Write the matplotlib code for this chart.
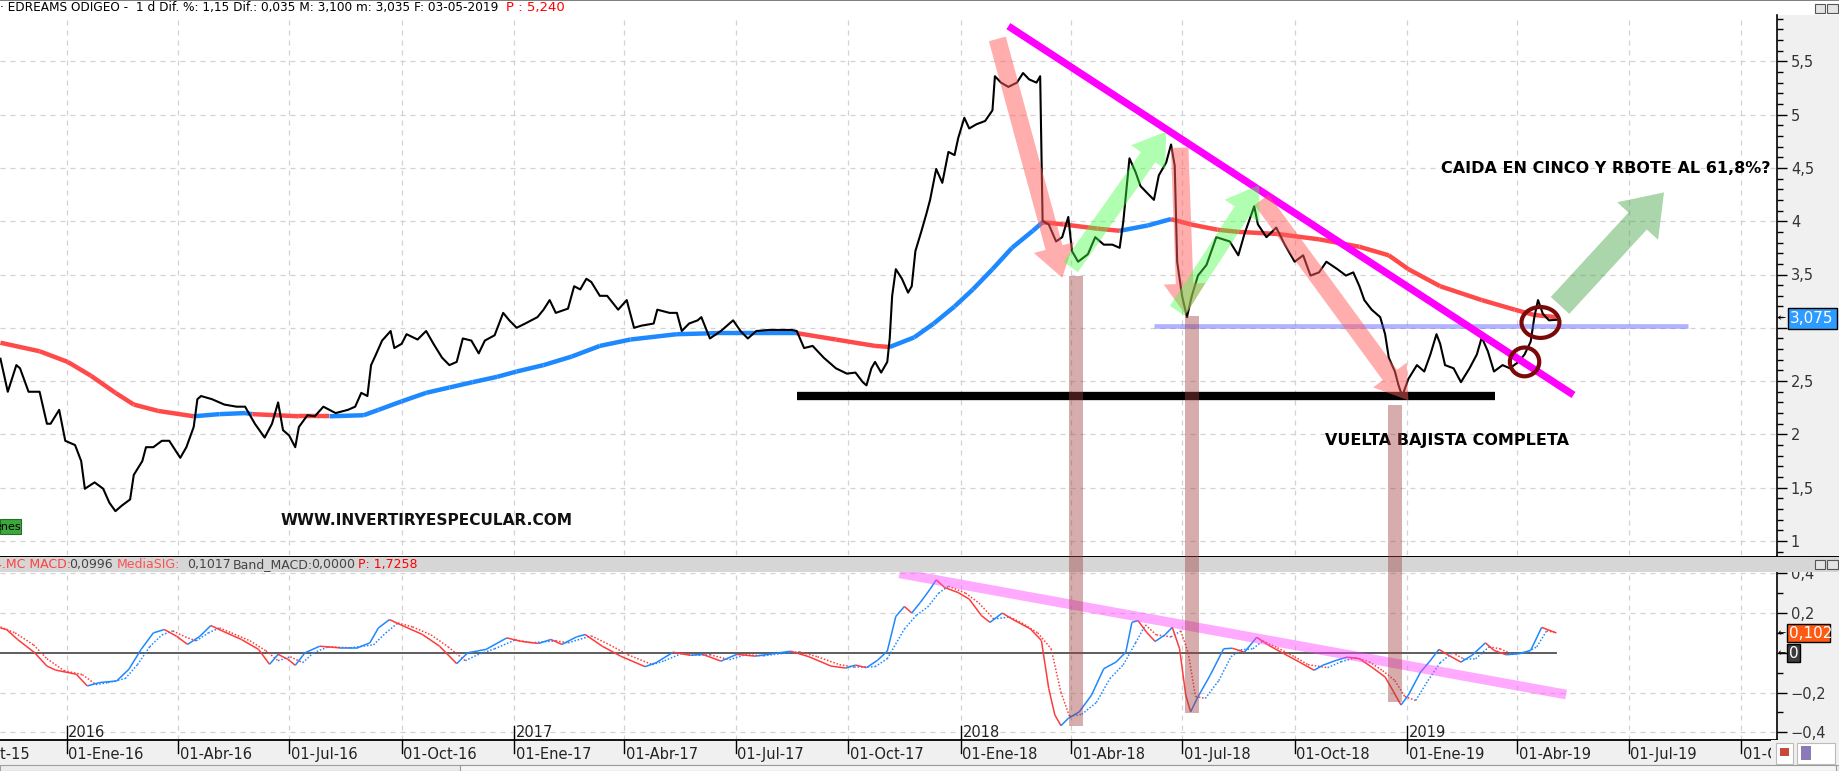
import numpy as np
import matplotlib
matplotlib.use("Agg")
import matplotlib.pyplot as plt
import matplotlib.dates as mdates
from matplotlib.collections import LineCollection
from matplotlib.patches import Rectangle, FancyArrowPatch, Ellipse
from matplotlib.ticker import MultipleLocator, FixedLocator, FuncFormatter

# ---------------- data ----------------
price_dates = [
    "2015-11-08", "2015-11-14", "2015-11-21", "2015-11-24", "2015-12-01", "2015-12-10", "2015-12-16",
    "2015-12-19", "2015-12-26", "2015-12-31", "2016-01-08", "2016-01-13", "2016-01-16", "2016-01-24",
    "2016-01-31", "2016-02-05", "2016-02-10", "2016-02-15", "2016-02-22", "2016-02-25", "2016-03-03",
    "2016-03-06", "2016-03-12", "2016-03-19", "2016-03-25", "2016-04-03", "2016-04-08", "2016-04-14",
    "2016-04-17", "2016-04-20", "2016-04-29", "2016-05-09", "2016-05-19", "2016-05-26", "2016-06-03",
    "2016-06-11", "2016-06-17", "2016-06-22", "2016-06-26", "2016-07-01", "2016-07-06", "2016-07-09",
    "2016-07-16", "2016-07-22", "2016-07-29", "2016-08-08", "2016-08-18", "2016-08-24", "2016-08-29",
    "2016-09-03", "2016-09-06", "2016-09-10", "2016-09-15", "2016-09-22", "2016-09-25", "2016-10-01",
    "2016-10-05", "2016-10-14", "2016-10-21", "2016-10-27", "2016-11-03", "2016-11-09", "2016-11-15",
    "2016-11-20", "2016-11-27", "2016-12-03", "2016-12-08", "2016-12-16", "2016-12-23", "2016-12-28",
    "2017-01-03", "2017-01-10", "2017-01-20", "2017-01-25", "2017-01-30", "2017-02-04", "2017-02-14",
    "2017-02-19", "2017-02-24", "2017-03-01", "2017-03-05", "2017-03-12", "2017-03-18", "2017-03-27",
    "2017-04-03", "2017-04-09", "2017-04-15", "2017-04-25", "2017-04-28", "2017-05-08", "2017-05-14",
    "2017-05-18", "2017-05-24", "2017-05-31", "2017-06-03", "2017-06-10", "2017-06-19", "2017-06-29",
    "2017-07-05", "2017-07-11", "2017-07-18", "2017-07-28", "2017-08-07", "2017-08-16", "2017-08-20",
    "2017-08-26", "2017-09-02", "2017-09-11", "2017-09-21", "2017-09-30", "2017-10-07", "2017-10-13",
    "2017-10-16", "2017-10-20", "2017-10-23", "2017-10-28", "2017-11-02", "2017-11-04", "2017-11-06",
    "2017-11-09", "2017-11-14", "2017-11-19", "2017-11-22", "2017-11-25", "2017-11-30", "2017-12-04",
    "2017-12-07", "2017-12-12", "2017-12-17", "2017-12-22", "2017-12-27", "2017-12-30", "2018-01-04",
    "2018-01-08", "2018-01-14", "2018-01-21", "2018-01-27", "2018-01-29", "2018-02-03", "2018-02-09",
    "2018-02-16", "2018-02-21", "2018-02-26", "2018-03-04", "2018-03-07", "2018-03-09", "2018-03-14",
    "2018-03-20", "2018-03-25", "2018-03-30", "2018-04-02", "2018-04-07", "2018-04-15", "2018-04-21",
    "2018-04-28", "2018-05-05", "2018-05-11", "2018-05-14", "2018-05-19", "2018-05-24", "2018-05-28",
    "2018-06-02", "2018-06-08", "2018-06-12", "2018-06-18", "2018-06-22", "2018-06-25", "2018-06-27",
    "2018-07-01", "2018-07-05", "2018-07-09", "2018-07-14", "2018-07-21", "2018-07-29", "2018-08-09",
    "2018-08-16", "2018-08-21", "2018-08-29", "2018-09-01", "2018-09-08", "2018-09-16", "2018-09-23",
    "2018-10-01", "2018-10-08", "2018-10-14", "2018-10-21", "2018-10-27", "2018-11-05", "2018-11-12",
    "2018-11-18", "2018-11-23", "2018-11-27", "2018-12-03", "2018-12-10", "2018-12-14", "2018-12-17",
    "2018-12-22", "2018-12-25", "2018-12-28", "2019-01-02", "2019-01-09", "2019-01-15", "2019-01-20",
    "2019-01-25", "2019-01-28", "2019-02-01", "2019-02-08", "2019-02-14", "2019-02-21", "2019-02-27",
    "2019-03-03", "2019-03-08", "2019-03-13", "2019-03-20", "2019-03-26", "2019-04-02", "2019-04-07",
    "2019-04-12", "2019-04-15", "2019-04-18", "2019-04-22", "2019-04-27", "2019-05-03",
]
price = [
    2.71, 2.40, 2.65, 2.62, 2.40, 2.40, 2.10, 2.10, 2.23, 1.94, 1.90, 1.75, 1.49, 1.55,
    1.49, 1.36, 1.28, 1.33, 1.39, 1.62, 1.75, 1.88, 1.88, 1.94, 1.94, 1.78, 1.88, 2.07,
    2.33, 2.36, 2.33, 2.28, 2.26, 2.26, 2.10, 1.97, 2.10, 2.30, 2.04, 1.99, 1.88, 2.07,
    2.18, 2.17, 2.26, 2.20, 2.23, 2.26, 2.39, 2.36, 2.65, 2.75, 2.88, 2.97, 2.81, 2.85,
    2.94, 2.89, 2.97, 2.85, 2.72, 2.65, 2.68, 2.90, 2.88, 2.76, 2.88, 2.93, 3.14, 3.07,
    3.00, 3.04, 3.10, 3.17, 3.26, 3.14, 3.18, 3.39, 3.36, 3.46, 3.43, 3.30, 3.30, 3.17,
    3.26, 3.00, 3.02, 3.04, 3.17, 3.14, 3.14, 2.97, 3.04, 3.07, 3.10, 2.90, 2.97, 3.07,
    2.97, 2.90, 2.97, 2.98, 2.98, 2.98, 2.97, 2.81, 2.83, 2.72, 2.62, 2.57, 2.58, 2.49,
    2.46, 2.62, 2.68, 2.58, 2.68, 2.90, 3.30, 3.55, 3.46, 3.33, 3.39, 3.72, 3.91, 4.07,
    4.20, 4.49, 4.36, 4.65, 4.62, 4.78, 4.97, 4.87, 4.91, 4.94, 5.04, 5.36, 5.30, 5.26,
    5.30, 5.39, 5.33, 5.30, 5.36, 4.00, 3.97, 3.81, 3.85, 4.04, 3.72, 3.62, 3.69, 3.85,
    3.78, 3.78, 3.75, 4.00, 4.59, 4.46, 4.33, 4.27, 4.20, 4.43, 4.55, 4.72, 4.52, 3.62,
    3.30, 3.10, 3.30, 3.49, 3.59, 3.85, 3.81, 3.68, 3.88, 4.14, 3.97, 3.85, 3.94, 3.78,
    3.62, 3.68, 3.49, 3.52, 3.62, 3.55, 3.49, 3.52, 3.39, 3.26, 3.17, 3.10, 2.94, 2.72,
    2.59, 2.46, 2.36, 2.52, 2.65, 2.59, 2.75, 2.94, 2.85, 2.65, 2.62, 2.49, 2.62, 2.75,
    2.91, 2.78, 2.59, 2.65, 2.62, 2.68, 2.75, 2.87, 3.10, 3.26, 3.13, 3.07, 3.075,
]

ma_dates = [
    "2015-11-08", "2015-12-10", "2016-01-02", "2016-01-21", "2016-02-10", "2016-02-25", "2016-03-16",
    "2016-04-14", "2016-05-05", "2016-05-26", "2016-06-01", "2016-07-09", "2016-08-03", "2016-08-31",
    "2016-09-12", "2016-10-01", "2016-10-21", "2016-11-09", "2016-11-28", "2016-12-18", "2017-01-03",
    "2017-01-25", "2017-02-17", "2017-03-12", "2017-04-06", "2017-05-14", "2017-06-16", "2017-07-24",
    "2017-08-20", "2017-09-21", "2017-10-23", "2017-11-04", "2017-11-24", "2017-12-10", "2017-12-27",
    "2018-01-11", "2018-01-27", "2018-02-12", "2018-03-01", "2018-03-09", "2018-03-26", "2018-04-23",
    "2018-05-11", "2018-06-03", "2018-06-22", "2018-07-08", "2018-07-30", "2018-08-16", "2018-09-17",
    "2018-10-21", "2018-11-23", "2018-12-17", "2019-01-02", "2019-01-28", "2019-03-03", "2019-03-30",
    "2019-04-15", "2019-05-03",
]
ma = [
    2.86, 2.78, 2.68, 2.55, 2.39, 2.28, 2.22, 2.17, 2.19, 2.20, 2.19, 2.17, 2.17, 2.18,
    2.23, 2.31, 2.39, 2.44, 2.49, 2.54, 2.59, 2.65, 2.73, 2.83, 2.89, 2.94, 2.95, 2.95,
    2.95, 2.89, 2.83, 2.82, 2.91, 3.04, 3.20, 3.36, 3.55, 3.75, 3.91, 3.99, 3.97, 3.93,
    3.91, 3.96, 4.02, 3.97, 3.92, 3.90, 3.88, 3.83, 3.76, 3.68, 3.55, 3.39, 3.26, 3.17,
    3.12, 3.10,
]

macd_dates = [
    "2015-11-08", "2015-11-13", "2015-11-22", "2015-12-06", "2015-12-16", "2015-12-23", "2016-01-09",
    "2016-01-18", "2016-01-28", "2016-02-11", "2016-02-21", "2016-03-02", "2016-03-12", "2016-03-21",
    "2016-03-31", "2016-04-09", "2016-04-19", "2016-04-28", "2016-05-08", "2016-05-23", "2016-06-06",
    "2016-06-15", "2016-06-22", "2016-06-30", "2016-07-06", "2016-07-14", "2016-07-26", "2016-08-11",
    "2016-08-26", "2016-09-05", "2016-09-12", "2016-09-21", "2016-10-03", "2016-10-18", "2016-11-01",
    "2016-11-15", "2016-11-24", "2016-12-09", "2016-12-26", "2017-01-06", "2017-01-21", "2017-01-31",
    "2017-02-09", "2017-02-21", "2017-02-28", "2017-03-14", "2017-03-29", "2017-04-18", "2017-04-27",
    "2017-05-11", "2017-05-25", "2017-06-04", "2017-06-19", "2017-07-02", "2017-07-17", "2017-08-06",
    "2017-08-15", "2017-08-30", "2017-09-17", "2017-09-29", "2017-10-07", "2017-10-16", "2017-10-25",
    "2017-11-02", "2017-11-09", "2017-11-16", "2017-11-22", "2017-11-29", "2017-12-07", "2017-12-12",
    "2017-12-19", "2017-12-30", "2018-01-08", "2018-01-18", "2018-01-25", "2018-02-04", "2018-02-12",
    "2018-02-27", "2018-03-08", "2018-03-14", "2018-03-19", "2018-03-24", "2018-03-30", "2018-04-08",
    "2018-04-18", "2018-04-28", "2018-05-08", "2018-05-16", "2018-05-21", "2018-05-26", "2018-06-02",
    "2018-06-09", "2018-06-17", "2018-06-23", "2018-06-29", "2018-07-04", "2018-07-08", "2018-07-14",
    "2018-07-24", "2018-08-04", "2018-08-11", "2018-08-21", "2018-08-31", "2018-09-10", "2018-09-20",
    "2018-10-05", "2018-10-17", "2018-10-24", "2018-11-04", "2018-11-13", "2018-11-23", "2018-12-03",
    "2018-12-14", "2018-12-21", "2018-12-27", "2019-01-02", "2019-01-12", "2019-01-19", "2019-01-27",
    "2019-02-04", "2019-02-14", "2019-02-23", "2019-03-06", "2019-03-13", "2019-03-23", "2019-04-02",
    "2019-04-12", "2019-04-21", "2019-05-03",
]
macd = [
    0.125, 0.117, 0.067, 0.000, -0.067, -0.087, -0.108, -0.167, -0.150, -0.142, -0.083, 0.017, 0.100,
    0.117, 0.083, 0.042, 0.083, 0.137, 0.108, 0.067, 0.017, -0.058, -0.008, -0.033, -0.063, 0.000,
    0.033, 0.025, 0.025, 0.050, 0.125, 0.167, 0.133, 0.092, 0.033, -0.055, 0.000, 0.017, 0.075,
    0.058, 0.047, 0.067, 0.042, 0.080, 0.092, 0.033, -0.017, -0.070, -0.050, 0.003, -0.013, -0.008,
    -0.042, -0.008, -0.017, 0.000, 0.008, -0.020, -0.067, -0.077, -0.062, -0.075, -0.038, 0.008,
    0.183, 0.233, 0.200, 0.253, 0.320, 0.367, 0.328, 0.303, 0.270, 0.187, 0.153, 0.200, 0.170,
    0.120, 0.062, -0.180, -0.313, -0.367, -0.330, -0.297, -0.213, -0.080, -0.047, 0.003, 0.153,
    0.162, 0.103, 0.057, 0.090, 0.128, 0.020, -0.213, -0.297, -0.222, -0.113, 0.020, 0.023, 0.003,
    0.078, 0.037, 0.003, -0.047, -0.088, -0.063, -0.038, -0.022, -0.030, -0.072, -0.122, -0.197,
    -0.263, -0.213, -0.097, -0.047, 0.017, -0.013, -0.047, -0.013, 0.050, 0.012, -0.010, -0.005,
    0.012, 0.128, 0.0996,
]

sig_dates = [
    "2015-11-08", "2015-11-20", "2015-12-05", "2015-12-16", "2015-12-30", "2016-01-14", "2016-01-25",
    "2016-02-04", "2016-02-18", "2016-02-28", "2016-03-09", "2016-03-19", "2016-03-28", "2016-04-07",
    "2016-04-16", "2016-04-26", "2016-05-05", "2016-05-15", "2016-05-30", "2016-06-12", "2016-06-22",
    "2016-07-02", "2016-07-12", "2016-07-21", "2016-08-02", "2016-08-20", "2016-09-08", "2016-09-18",
    "2016-09-28", "2016-10-10", "2016-10-25", "2016-11-08", "2016-11-22", "2016-12-02", "2016-12-16",
    "2017-01-02", "2017-01-15", "2017-02-04", "2017-02-14", "2017-03-05", "2017-03-20", "2017-04-04",
    "2017-04-24", "2017-05-04", "2017-05-18", "2017-06-01", "2017-06-10", "2017-06-26", "2017-07-09",
    "2017-07-24", "2017-08-13", "2017-08-22", "2017-09-06", "2017-09-24", "2017-10-06", "2017-10-23",
    "2017-11-02", "2017-11-16", "2017-11-26", "2017-12-05", "2017-12-14", "2017-12-22", "2018-01-05",
    "2018-01-16", "2018-01-28", "2018-02-10", "2018-02-20", "2018-03-05", "2018-03-16", "2018-03-24",
    "2018-03-31", "2018-04-10", "2018-04-22", "2018-05-03", "2018-05-14", "2018-05-24", "2018-06-01",
    "2018-06-10", "2018-06-22", "2018-06-30", "2018-07-06", "2018-07-12", "2018-07-20", "2018-07-31",
    "2018-08-10", "2018-08-18", "2018-08-28", "2018-09-05", "2018-09-17", "2018-10-01", "2018-10-12",
    "2018-10-28", "2018-11-08", "2018-11-20", "2018-12-01", "2018-12-12", "2018-12-22", "2018-12-30",
    "2019-01-08", "2019-01-18", "2019-01-28", "2019-02-07", "2019-02-16", "2019-02-26", "2019-03-09",
    "2019-03-18", "2019-03-28", "2019-04-08", "2019-04-17", "2019-04-25", "2019-05-03",
]
signal = [
    0.13, 0.10, 0.04, -0.03, -0.09, -0.11, -0.16, -0.15, -0.13, -0.06, 0.03, 0.09, 0.11, 0.08,
    0.06, 0.10, 0.125, 0.10, 0.06, 0.01, -0.04, -0.02, -0.05, 0.0, 0.03, 0.025, 0.04, 0.10,
    0.15, 0.13, 0.09, 0.03, -0.04, -0.01, 0.02, 0.065, 0.05, 0.06, 0.05, 0.085, 0.04, -0.01,
    -0.06, -0.04, -0.003, -0.012, -0.01, -0.035, -0.01, -0.015, 0.0, 0.005, -0.02, -0.06, -0.072,
    -0.07, -0.03, 0.12, 0.19, 0.23, 0.30, 0.335, 0.30, 0.25, 0.17, 0.18, 0.15, 0.10, 0.02,
    -0.20, -0.32, -0.31, -0.25, -0.13, -0.06, 0.05, 0.14, 0.09, 0.08, 0.11, 0.0, -0.22, -0.23,
    -0.14, -0.02, 0.015, 0.02, 0.06, 0.025, -0.02, -0.06, -0.075, -0.045, -0.025, -0.045, -0.09,
    -0.14, -0.22, -0.24, -0.14, -0.05, 0.0, -0.03, -0.03, 0.03, 0.02, -0.008, 0.0, 0.03, 0.11,
    0.1017,
]

# drawn annotations (date, value)
trend_top = [("2018-02-09", 5.83), ("2019-05-17", 2.37)]
support_line = [("2017-08-20", 2.36), ("2019-03-14", 2.36)]
resist_line = [("2018-06-08", 3.015), ("2019-08-19", 3.015)]
macd_trend = [("2017-11-12", 0.40), ("2019-05-11", -0.21)]
red_arrows = [[("2018-01-31", 5.71), ("2018-03-25", 3.47)],
              [("2018-06-29", 4.69), ("2018-07-04", 3.12)],
              [("2018-09-04", 4.20), ("2019-01-02", 2.32)]]
green_arrows = [[("2018-04-01", 3.57), ("2018-06-18", 4.84)],
                [("2018-06-27", 3.16), ("2018-09-02", 4.34)]]
big_arrow = [("2019-05-06", 3.21), ("2019-07-30", 4.27)]
bars = [("2018-04-05", 3.49, -0.37), ("2018-07-09", 3.11, -0.305), ("2018-12-22", 2.28, -0.25)]
circles = [("2019-04-20", 3.05, 31, 0.29), ("2019-04-07", 2.68, 24, 0.27)]
meses = {1: "Ene", 4: "Abr", 7: "Jul", 10: "Oct"}

# ---------------- layout ----------------
W, H = 1839, 771
fig = plt.figure(figsize=(W / 100, H / 100), dpi=100)
fig.patch.set_facecolor("white")


def box(x0, y0, x1, y1):
    return [x0 / W, 1 - y1 / H, (x1 - x0) / W, (y1 - y0) / H]


def fx(x):
    return x / W


def fy(y):
    return 1 - y / H


def dn(s):
    return mdates.date2num(np.datetime64(s))


def dnum(lst):
    return mdates.date2num(np.array(lst, dtype="datetime64[D]"))


d0 = dn("2016-01-01")
ppd = 1.2232
xlim = (d0 - 66.5 / ppd, d0 + (1777 - 66.5) / ppd)

# background for right scale
fig.add_artist(Rectangle((fx(1777), fy(740)), fx(62), 725 / H, transform=fig.transFigure,
                         facecolor="#f0f0f0", edgecolor="none", zorder=-5))
fig.add_artist(Rectangle((0, fy(1.2)), 1, 1.2 / H, transform=fig.transFigure,
                         facecolor="#808080", edgecolor="none", zorder=-4))

ax = fig.add_axes(box(0, 15, 1777, 555))
axm = fig.add_axes(box(0, 556, 1777, 740))
axs = fig.add_axes(box(0, 740, 1777, 765))

ax.set_ylim(1 - 14 / 106.6, 1 + 526 / 106.6)
axm.set_ylim(-0.439, 0.487)

grid_kw = dict(color="#d2d2d2", lw=0.9, dashes=(4, 4), zorder=0)
qdates = [f"{y}-{m:02d}-01" for y in range(2015, 2020) for m in (1, 4, 7, 10)]
for a in (ax, axm, axs):
    a.set_xlim(xlim)
    a.set_facecolor("white")
    for s in ("left", "top", "bottom"):
        a.spines[s].set_visible(False)
    a.tick_params(axis="x", which="both", length=0, labelbottom=False)
for a in (ax, axm):
    a.spines["right"].set_color("black")
    a.spines["right"].set_linewidth(1.2)
    a.yaxis.tick_right()
    a.tick_params(axis="y", which="major", length=7, width=1, labelsize=10.5,
                  labelcolor="#333333", pad=3)
    a.tick_params(axis="y", which="minor", length=4, width=1)
    for q in qdates:
        a.axvline(dn(q), **grid_kw)

# main price panel (the "3" label sits behind the last-price tag)
ax.yaxis.set_major_locator(MultipleLocator(0.5))
ax.yaxis.set_minor_locator(MultipleLocator(0.1))
ax.yaxis.set_major_formatter(FuncFormatter(
    lambda v, p: "" if abs(v - 3.0) < 1e-9 else ("%g" % round(v, 2)).replace(".", ",")))
for v in np.arange(1.0, 5.51, 0.5):
    ax.axhline(v, **grid_kw)

px = dnum(price_dates)
py = np.array(price)
mx = dnum(ma_dates)
my = np.array(ma)

# moving average: blue where price is above it, red where below
p_at = np.interp(mx, px, py)
segs = np.stack([np.column_stack([mx[:-1], my[:-1]]), np.column_stack([mx[1:], my[1:]])], axis=1)
above = (p_at[:-1] + p_at[1:]) > (my[:-1] + my[1:])
ax.add_collection(LineCollection(segs, colors=np.where(above, "#1e88ff", "#ff4a4a"),
                                 linewidths=3.2, zorder=3, capstyle="butt"))
ax.plot(px, py, color="black", lw=1.5, zorder=4)

# annotations on the price panel
ax.plot(dnum([p[0] for p in trend_top]), [p[1] for p in trend_top], color="#ff00ff", lw=5.2,
        solid_capstyle="butt", zorder=6)
ax.plot(dnum([p[0] for p in support_line]), [p[1] for p in support_line], color="black", lw=6,
        solid_capstyle="butt", zorder=5)
ax.plot(dnum([p[0] for p in resist_line]), [p[1] for p in resist_line], color="#5555ff", lw=3.4,
        alpha=0.45, solid_capstyle="butt", zorder=5)

for arr in red_arrows:
    (a0, v0), (a1, v1) = arr
    ax.add_patch(FancyArrowPatch((dn(a0), v0), (dn(a1), v1), transform=ax.transData,
                                 arrowstyle="simple,head_width=1.0,head_length=0.75,tail_width=0.42",
                                 mutation_scale=30, color="#ff5c5c", alpha=0.5, lw=0,
                                 shrinkA=0, shrinkB=0, zorder=7))
for arr in green_arrows:
    (a0, v0), (a1, v1) = arr
    ax.add_patch(FancyArrowPatch((dn(a0), v0), (dn(a1), v1), transform=ax.transData,
                                 arrowstyle="simple,head_width=1.0,head_length=0.75,tail_width=0.42",
                                 mutation_scale=30, color="#44ff44", alpha=0.42, lw=0,
                                 shrinkA=0, shrinkB=0, zorder=7))
(a0, v0), (a1, v1) = big_arrow
ax.add_patch(FancyArrowPatch((dn(a0), v0), (dn(a1), v1), transform=ax.transData,
                             arrowstyle="simple,head_width=1.0,head_length=0.7,tail_width=0.45",
                             mutation_scale=40, color="#2e962e", alpha=0.4, lw=0,
                             shrinkA=0, shrinkB=0, zorder=7))
for c, v, wd, ht in circles:
    ax.add_patch(Ellipse((dn(c), v), wd, ht, facecolor="none", edgecolor="#7a0a0a", lw=3, zorder=8))

txt_kw = dict(fontsize=11.5, fontweight="bold", color="black", va="center", ha="left", zorder=9)
ax.text(dn("2019-01-29"), 4.49, "CAIDA EN CINCO Y RBOTE AL 61,8%?", **txt_kw)
ax.text(dn("2018-10-26"), 1.94, "VUELTA BAJISTA COMPLETA", **txt_kw)
ax.text(dn("2016-06-24"), 1.19, "WWW.INVERTIRYESPECULAR.COM", fontsize=11.1, fontweight="bold",
        color="#111111", va="center", ha="left", zorder=9)

# MACD panel
axm.yaxis.set_major_locator(FixedLocator([-0.4, -0.2, 0.0, 0.2, 0.4]))
axm.yaxis.set_minor_locator(MultipleLocator(0.1))
axm.yaxis.set_major_formatter(FuncFormatter(
    lambda v, p: "" if abs(v) < 1e-9 else ("%g" % round(v, 2)).replace(".", ",").replace("-", "\u2212")))
for v in (-0.4, -0.2, 0.2, 0.4):
    axm.axhline(v, **grid_kw)
mcx = dnum(macd_dates)
axm.plot([xlim[0], mcx[-1]], [0, 0], color="#505050", lw=1.3, zorder=2)


def slope_line(a, x, y, style, lw):
    y = np.asarray(y)
    sg = np.stack([np.column_stack([x[:-1], y[:-1]]), np.column_stack([x[1:], y[1:]])], axis=1)
    cols = np.where(y[1:] >= y[:-1], "#1e88ff", "#ff3b3b")
    a.add_collection(LineCollection(sg, colors=cols, linewidths=lw, linestyles=style, zorder=4))


slope_line(axm, dnum(sig_dates), signal, (0, (1, 1.2)), 1.1)
slope_line(axm, mcx, macd, "solid", 1.1)
axm.plot(dnum([p[0] for p in macd_trend]), [p[1] for p in macd_trend], color="#ff44ff", lw=7,
         alpha=0.45, solid_capstyle="butt", zorder=5)

for yr in (2016, 2017, 2018, 2019):
    xx = dn(f"{yr}-01-01")
    axm.plot([xx, xx], [-0.37, -0.439], color="black", lw=1, zorder=3)
    axm.text(xx + 1.5, -0.437, str(yr), fontsize=10.5, color="#222222", ha="left", va="bottom", zorder=3)

# date strip
axs.set_facecolor("#f0f0f0")
axs.spines["top"].set_visible(True)
axs.spines["top"].set_color("black")
axs.spines["top"].set_linewidth(1.3)
axs.set_ylim(0, 1)
axs.set_yticks([])
for q in qdates:
    dq = np.datetime64(q).astype(object)
    xx = dn(q)
    axs.plot([xx, xx], [1, 0.5], color="black", lw=1, clip_on=True)
    axs.text(xx + 1.5, 0.42, "01-%s-%02d" % (meses[dq.month], dq.year % 100), fontsize=10.5,
             color="#222222", ha="left", va="center", clip_on=True)

# brown vertical marks crossing both panels
fig.canvas.draw()
inv = fig.transFigure.inverted()
for c, top, bot in bars:
    xt, yt = inv.transform(ax.transData.transform((dn(c), top)))
    _, yb = inv.transform(axm.transData.transform((dn(c), bot)))
    fig.add_artist(Rectangle((xt - 7 / W, yb), 14 / W, yt - yb, transform=fig.transFigure,
                             facecolor="#a04040", alpha=0.43, edgecolor="none", zorder=20))

# MACD header bar
fig.add_artist(Rectangle((0, fy(572)), 1, 16 / H, transform=fig.transFigure,
                         facecolor="#d6d6d6", edgecolor="none", zorder=10))
fig.add_artist(Rectangle((0, fy(557)), 1, 1.3 / H, transform=fig.transFigure,
                         facecolor="black", edgecolor="none", zorder=11))
hdr = [(-6, "4.MC MACD:", "#ff4040"), (69, "0,0996", "#444444"), (117, "MediaSIG:", "#ff5050"),
       (187, "0,1017", "#444444"), (233, "Band_MACD:", "#444444"), (311, "0,0000", "#444444"),
       (358, "P: 1,7258", "#ff0000")]
for xh, s, col in hdr:
    fig.text(fx(xh), fy(564.5), s, fontsize=9, color=col, ha="left", va="center", zorder=12)

# main header text
t_head = fig.text(fx(0), fy(8), "\u00b7 EDREAMS ODIGEO -  1 d Dif. %: 1,15 Dif.: 0,035 M: 3,100 "
                  "m: 3,035 F: 03-05-2019", fontsize=8.7, color="black", ha="left", va="center")
fig.canvas.draw()
x_end = t_head.get_window_extent().x1
fig.text(fx(x_end + 8), fy(8), "P : 5,240", fontsize=9.5, color="#ff0000", ha="left", va="center")

# window buttons
for yb in (4, 560):
    for xb, wb in ((1815, 10), (1827, 11)):
        fig.add_artist(Rectangle((fx(xb), fy(yb + 9)), wb / W, 9 / H, transform=fig.transFigure,
                                 facecolor="#e4e4e4", edgecolor="#555555", lw=0.8, zorder=13))


# value boxes on the right scale
def tag(x0, y0, x1, y1, s, fc, ec="black"):
    fig.add_artist(Rectangle((fx(x0), fy(y1)), (x1 - x0) / W, (y1 - y0) / H, transform=fig.transFigure,
                             facecolor=fc, edgecolor=ec, lw=1, zorder=14))
    fig.text(fx(x0 + 2), fy((y0 + y1) / 2), s, fontsize=11, color="white", ha="left", va="center",
             zorder=15)
    fig.text(fx(1778), fy((y0 + y1) / 2), "\u2190", fontsize=7, color="black", ha="left",
             va="center", zorder=15)


tag(1788, 308, 1837, 329, "3,075", "#2d9bff")
tag(1787, 624, 1830, 642, "0,102", "#ff5a14")
tag(1787, 644, 1800, 662, "0", "#3c3c3c")

# green label at the left
fig.add_artist(Rectangle((0, fy(534)), 21 / W, 15 / H, transform=fig.transFigure,
                         facecolor="#3aa83a", edgecolor="#2a6a2a", lw=0.8, zorder=13))
fig.text(fx(-6), fy(526.5), "enes", fontsize=8, color="black", ha="left", va="center", zorder=14)

# scrollbar and icons at the bottom
fig.add_artist(Rectangle((0, 0), 1, 6 / H, transform=fig.transFigure,
                         facecolor="#ececec", edgecolor="#a0a0a0", lw=0.8, zorder=13))
fig.add_artist(Rectangle((fx(460), 0), 1376 / W, 6 / H, transform=fig.transFigure,
                         facecolor="#f6f6f6", edgecolor="#9a9a9a", lw=0.8, zorder=14))
fig.add_artist(Rectangle((fx(1771), fy(765)), 68 / W, 25 / H, transform=fig.transFigure,
                         facecolor="#f0f0f0", edgecolor="none", zorder=13))
fig.add_artist(Rectangle((fx(1776), fy(764)), 17 / W, 21 / H, transform=fig.transFigure,
                         facecolor="white", edgecolor="#bbbbbb", lw=0.8, zorder=14))
fig.add_artist(Rectangle((fx(1780), fy(756)), 9 / W, 8 / H, transform=fig.transFigure,
                         facecolor="#c84a3a", edgecolor="none", zorder=15))
fig.add_artist(Rectangle((fx(1797), fy(764)), 38 / W, 21 / H, transform=fig.transFigure,
                         facecolor="white", edgecolor="#bbbbbb", lw=0.8, zorder=14))
fig.add_artist(Rectangle((fx(1801), fy(760)), 10 / W, 14 / H, transform=fig.transFigure,
                         facecolor="#8a7ab8", edgecolor="none", zorder=15))

fig.savefig("out.png", dpi=100)
